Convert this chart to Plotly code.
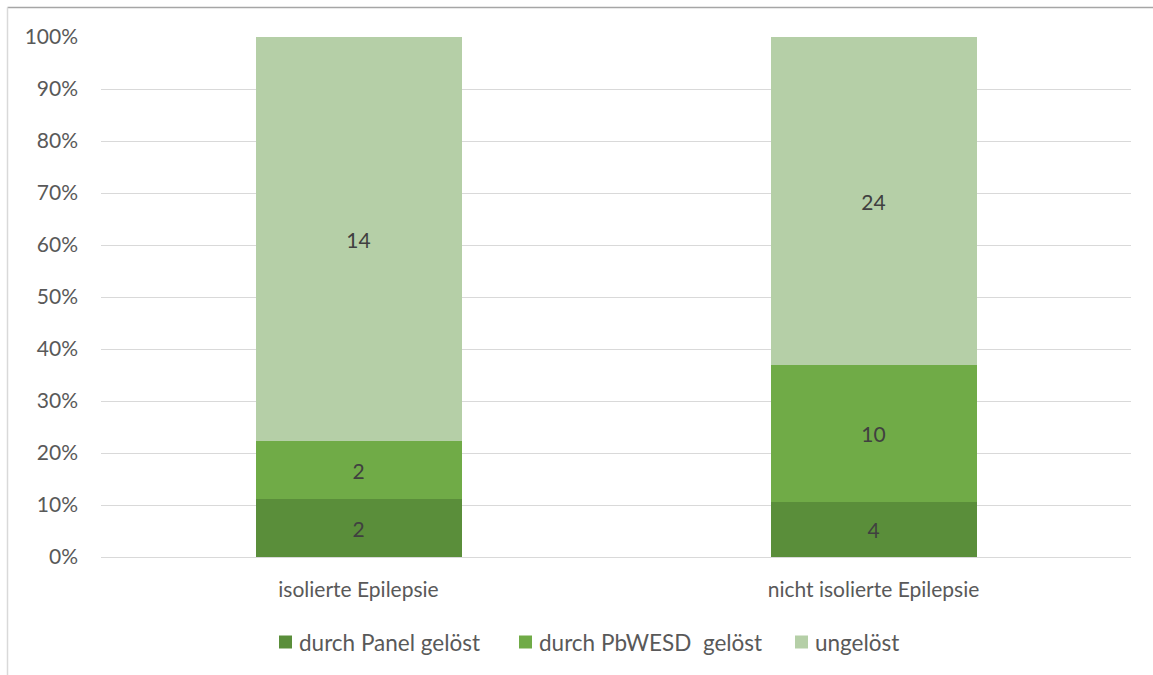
import plotly.graph_objects as go

# Cases per group, split by how they were resolved
categories = ["isolierte Epilepsie", "nicht isolierte Epilepsie"]
series_names = ["durch Panel gelöst", "durch PbWESD  gelöst", "ungelöst"]
panel = [2, 4]
pbwesd = [2, 10]
unresolved = [14, 24]
series_values = [panel, pbwesd, unresolved]
colors = ["#5A8E3A", "#70AB47", "#B5CFA7"]

FONT = "Lato"
FS = 21
TEXT_GREY = "#595959"

fig = go.Figure()
for name, vals, col in zip(series_names, series_values, colors):
    fig.add_trace(go.Bar(
        name=name,
        x=categories,
        y=vals,
        text=vals,
        textposition="inside",
        insidetextanchor="middle",
        textfont=dict(family=FONT, size=FS, color="#404040"),
        marker=dict(color=col, line=dict(width=0)),
        showlegend=False,
    ))

W, H = 1153, 675
ml, mr, mt, mb = 101, 22, 37, 118
pw, ph = W - ml - mr, H - mt - mb


def px_x(x):
    """pixel column -> paper x"""
    return (x - ml) / pw


def px_y(y):
    """pixel row -> paper y"""
    return 1 - (y - mt) / ph


shapes = [
    # frame edge along the top and the left
    dict(type="line", xref="paper", yref="paper",
         x0=px_x(7.5), x1=px_x(W), y0=px_y(7.5), y1=px_y(7.5),
         line=dict(color="#A6A6A6", width=1.5)),
    dict(type="line", xref="paper", yref="paper",
         x0=px_x(7.5), x1=px_x(7.5), y0=px_y(7.5), y1=px_y(H),
         line=dict(color="#D9D9D9", width=1.5)),
]
annotations = []

# legend row below the categories: square swatch followed by the series name
legend_left = [279, 519, 795]
legend_row = 642
swatch = 13
for name, col, x0 in zip(series_names, colors, legend_left):
    shapes.append(dict(
        type="rect", xref="paper", yref="paper",
        x0=px_x(x0), x1=px_x(x0 + swatch),
        y0=px_y(legend_row + swatch / 2), y1=px_y(legend_row - swatch / 2),
        fillcolor=col, line=dict(width=0),
    ))
    annotations.append(dict(
        xref="paper", yref="paper",
        x=px_x(x0 + swatch + 5), y=px_y(legend_row),
        xanchor="left", yanchor="middle",
        text=name, showarrow=False,
        font=dict(family=FONT, size=22.5, color=TEXT_GREY),
    ))

fig.update_layout(
    width=W, height=H,
    barmode="stack",
    barnorm="percent",
    bargap=0.6,
    margin=dict(l=ml, r=mr, t=mt, b=mb),
    paper_bgcolor="white",
    plot_bgcolor="white",
    font=dict(family=FONT, size=FS, color=TEXT_GREY),
    showlegend=False,
    xaxis=dict(
        showline=False, showgrid=False, ticks="",
        ticklabelstandoff=18,
        tickfont=dict(family=FONT, size=FS, color=TEXT_GREY),
    ),
    yaxis=dict(
        range=[0, 100], dtick=10, ticksuffix="%",
        showgrid=True, gridcolor="#D9D9D9", gridwidth=1,
        zeroline=True, zerolinecolor="#D9D9D9", zerolinewidth=1,
        showline=False, ticks="", ticklen=0,
        ticklabelstandoff=22,
        tickfont=dict(family=FONT, size=FS, color=TEXT_GREY),
    ),
    shapes=shapes,
    annotations=annotations,
)

fig.write_html("out.html")
